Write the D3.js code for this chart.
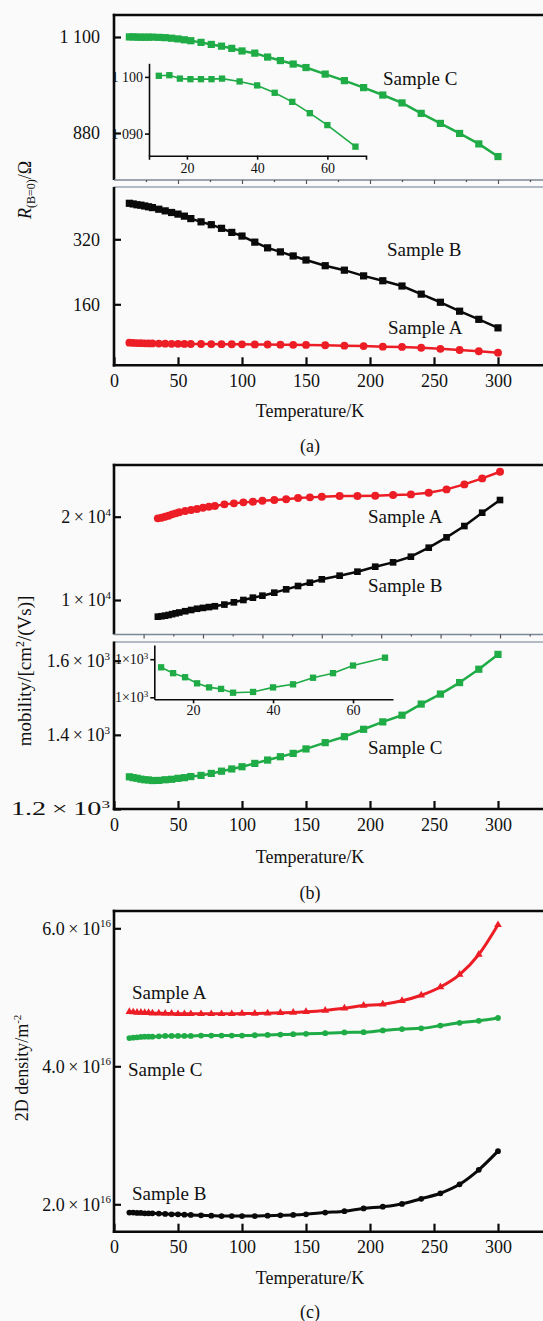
<!DOCTYPE html>
<html>
<head>
<meta charset="utf-8">
<script src="https://cdn.jsdelivr.net/npm/d3@7"></script>
<style>
  body { margin: 0; background: #fafafa; }
  svg text { font-family: "Liberation Serif", "Times New Roman", serif; fill: #111; }
</style>
</head>
<body>
<svg id="chart" width="543" height="1321"></svg>
<script>
// temperatures (K), same sampling for every curve
const temps = [12, 15, 18, 21, 24, 27, 30, 35, 40, 45, 50, 55, 60, 68, 76, 84, 92, 100, 110, 120, 130, 140, 150, 165, 180, 195, 210, 225, 240, 255, 270, 285, 300];

// (a) R(B=0) in ohm
const resC = [1100.2, 1100.3, 1099.7, 1099.6, 1099.6, 1099.6, 1099.7, 1099.2, 1098.5, 1097.2, 1095.6, 1093.6, 1091.5, 1087.7, 1083, 1079, 1074, 1068, 1063, 1054, 1046, 1038, 1030, 1015, 1000, 984, 967, 949, 925, 902, 879, 855, 826];
const resB = [408.6, 407, 405, 404, 402, 400, 398, 394, 390, 386, 382, 377, 371, 363, 356, 347, 337, 328, 313, 299, 289, 279, 269, 255, 244, 230, 218, 205, 185, 165, 143, 123, 102];
const resA = [65.5, 65, 64.6, 64.3, 64, 63.8, 63.6, 63.3, 63, 62.8, 62.6, 62.4, 62.3, 62.2, 62, 61.8, 61.7, 61.5, 61.2, 61, 60.6, 60.3, 60, 59.2, 58.2, 57.2, 55.8, 55, 53, 50.5, 47.5, 44.5, 41];

// (b) mobility in cm2/(Vs)
const mobA = [19800, 19880, 20000, 20120, 20280, 20400, 20530, 20680, 20800, 20920, 21080, 21200, 21280, 21480, 21600, 21720, 21800, 21920, 22000, 22100, 22240, 22320, 22400, 22480, 22480, 22520, 22600, 22680, 22880, 23280, 23880, 24600, 25400];
const mobB = [8000, 8050, 8120, 8200, 8300, 8400, 8500, 8650, 8800, 8950, 9050, 9150, 9250, 9450, 9720, 10000, 10280, 10520, 10880, 11280, 11680, 12080, 12480, 12920, 13400, 14000, 14520, 15200, 16280, 17520, 18880, 20480, 22000];
const mobC = [1286.8, 1284.5, 1282.9, 1280.5, 1278.9, 1278.3, 1276.8, 1277.1, 1278.9, 1280.1, 1282.7, 1284.5, 1287.5, 1290.6, 1296, 1302, 1308, 1314, 1323, 1332, 1341, 1350, 1362, 1379, 1395, 1415, 1435, 1453, 1483, 1510, 1541, 1577, 1617];

// (c) 2D density in 1e16 m^-2
const denA = [4.79, 4.785, 4.78, 4.78, 4.775, 4.775, 4.77, 4.77, 4.765, 4.765, 4.76, 4.76, 4.76, 4.76, 4.76, 4.76, 4.76, 4.765, 4.765, 4.77, 4.775, 4.78, 4.79, 4.81, 4.84, 4.88, 4.9, 4.95, 5.03, 5.15, 5.33, 5.62, 6.05];
const denC = [4.41, 4.415, 4.42, 4.425, 4.43, 4.43, 4.43, 4.435, 4.44, 4.44, 4.44, 4.44, 4.44, 4.445, 4.445, 4.445, 4.445, 4.445, 4.45, 4.455, 4.46, 4.465, 4.47, 4.48, 4.49, 4.495, 4.52, 4.54, 4.55, 4.59, 4.63, 4.66, 4.7];
const denB = [1.88, 1.88, 1.875, 1.875, 1.87, 1.87, 1.87, 1.865, 1.86, 1.855, 1.855, 1.85, 1.845, 1.84, 1.835, 1.83, 1.83, 1.83, 1.83, 1.835, 1.84, 1.845, 1.855, 1.88, 1.9, 1.94, 1.965, 2.005, 2.08, 2.16, 2.29, 2.5, 2.77];

const xTicks = [0, 50, 100, 150, 200, 250, 300];
const minorTicks = [25, 75, 125, 175, 225, 275, 325];
const insetN = 14; // insets show the points up to 68 K

const W = 543;
const FONT = '"Liberation Serif", "Times New Roman", serif';
const green = "#1fab45", red = "#ec1d25", black = "#0a0a0a", gray = "#7d8895";

const svg = d3.select("#chart").style("font-family", FONT);
svg.append("rect").attr("width", W).attr("height", 1321).attr("fill", "#fafafa");

const x = d3.scaleLinear().domain([0, 300]).range([114, 498]);
const xTopB = d3.scaleLinear().domain([0, 300]).range([143.6, 500]);

function hline(y, x1, x2, color, w) {
    svg.append("line").attr("x1", x1).attr("x2", x2).attr("y1", y).attr("y2", y)
        .attr("stroke", color).attr("stroke-width", w);
}
function vline(xx, y1, y2, color, w) {
    svg.append("line").attr("x1", xx).attr("x2", xx).attr("y1", y1).attr("y2", y2)
        .attr("stroke", color).attr("stroke-width", w);
}

function series(xs, ys, xv, yv, color, shape, msize, lw, curve) {
    const pts = xv.map((t, i) => [t, yv[i]]);
    svg.append("path").datum(pts)
        .attr("fill", "none").attr("stroke", color).attr("stroke-width", lw)
        .attr("stroke-linejoin", "round")
        .attr("d", d3.line().curve(curve || d3.curveLinear).x(d => xs(d[0])).y(d => ys(d[1])));
    svg.append("g").selectAll("path").data(pts).join("path")
        .attr("transform", d => `translate(${xs(d[0])},${ys(d[1])})`)
        .attr("d", d3.symbol().type(shape).size(msize))
        .attr("fill", color);
}

// label like 2×10^4
function sci(text, m, e, fs, sfs, thin) {
    text.text(null);
    const sp = thin ? "\u2009" : "";
    text.append("tspan").text(m + sp + "×" + sp + "10");
    text.append("tspan").attr("font-size", sfs).attr("dy", -fs * 0.4).text(e);
}

function styleText(g, fs) {
    g.attr("font-family", null);
    g.selectAll(".tick text").attr("font-size", fs).style("font-family", FONT).attr("fill", "#111");
}

function yAxis(ys, vals, fmt, pad) {
    const g = svg.append("g").attr("transform", "translate(114,0)")
        .call(d3.axisLeft(ys).tickValues(vals).tickSizeInner(-7).tickSizeOuter(0).tickPadding(pad).tickFormat(fmt));
    g.select(".domain").remove();
    g.selectAll(".tick line").attr("stroke", black).attr("stroke-width", 2.2);
    styleText(g, 18);
    return g;
}

function xAxis(yPos) {
    const g = svg.append("g").attr("transform", `translate(0,${yPos})`)
        .call(d3.axisBottom(x).tickValues(xTicks).tickSizeInner(-8).tickSizeOuter(0).tickPadding(9));
    g.select(".domain").remove();
    g.selectAll(".tick line").attr("stroke", black).attr("stroke-width", 2.2);
    styleText(g, 18);
}

function breakTicks(xs, yPos) {
    const g = svg.append("g").attr("transform", `translate(0,${yPos})`);
    g.call(d3.axisBottom(xs).tickValues(xTicks.filter(v => xs(v) > 116)).tickSize(4).tickFormat(""));
    g.append("g").call(d3.axisBottom(xs).tickValues(minorTicks.filter(v => xs(v) < W)).tickSize(2).tickFormat(""));
    g.selectAll(".domain").remove();
    g.selectAll(".tick line").attr("stroke", "#555").attr("stroke-width", 1.2);
}

function caption(txt, yc, xc, fs) {
    svg.append("text").attr("x", xc).attr("y", yc).attr("dy", "0.35em")
        .attr("font-size", fs).attr("text-anchor", "middle").style("font-family", FONT).text(txt);
}
function label(txt, x0, yc) {
    svg.append("text").attr("x", x0).attr("y", yc).attr("dy", "0.35em")
        .attr("font-size", 19).style("font-family", FONT).text(txt);
}

// ---------------- (a) ----------------
const yAt = d3.scaleLinear().domain([880, 1100]).range([133, 37]);
const yAb = d3.scaleLinear().domain([160, 320]).range([304.3, 239.3]);

hline(15, 112.8, W, black, 2.6);
vline(114, 13.8, 180, black, 2.6);
hline(180, 114, W, gray, 1.3);
breakTicks(x, 180);
hline(187, 114, W, "#9aa5b1", 1.5);
vline(114, 187, 366.6, black, 2.6);
hline(365.3, 112.8, W, black, 2.6);

yAxis(yAt, [880, 1100], d => d === 1100 ? "1 100" : "880", 14);
yAxis(yAb, [160, 320], d3.format("d"), 14);
xAxis(365.3);

series(x, yAt, temps, resC, green, d3.symbolSquare, 52, 2.5);
series(x, yAb, temps, resB, black, d3.symbolSquare, 52, 2.5);
series(x, yAb, temps, resA, red, d3.symbolCircle, 48, 2.5);

// inset (a)
const xiA = d3.scaleLinear().domain([9.2, 71]).range([149, 366]);
const yiA = d3.scaleLinear().domain([1086.1, 1102.4]).range([155.7, 63.3]);
{
    const gx = svg.append("g").attr("transform", "translate(0,155.7)")
        .call(d3.axisBottom(xiA).tickValues([20, 40, 60]).tickSizeInner(4).tickSizeOuter(4).tickPadding(3));
    const gy = svg.append("g").attr("transform", "translate(149,0)")
        .call(d3.axisLeft(yiA).tickValues([1090, 1100]).tickSizeInner(4).tickSizeOuter(0).tickPadding(2)
            .tickFormat(d => d === 1100 ? "1 100" : "1 090"));
    [gx, gy].forEach(g => {
        g.selectAll(".domain,.tick line").attr("stroke", black).attr("stroke-width", 1.6);
        styleText(g, 14);
    });
}
series(xiA, yiA, temps.slice(0, insetN), resC.slice(0, insetN), green, d3.symbolSquare, 40, 1.6);

label("Sample C", 383, 78);
label("Sample B", 387, 249);
label("Sample A", 388, 327);

{
    const t = svg.append("text").attr("transform", "translate(31,190) rotate(-90)")
        .attr("text-anchor", "middle").attr("font-size", 18).style("font-family", FONT);
    t.append("tspan").attr("font-style", "italic").text("R");
    t.append("tspan").attr("font-size", 12).attr("dy", 4).text("(B=0)");
    t.append("tspan").attr("dy", -4).text("/Ω");
}
caption("Temperature/K", 411, 310, 18);
caption("(a)", 446, 310, 18);

// ---------------- (b) ----------------
const yBt = d3.scaleLinear().domain([10000, 20000]).range([600, 516.7]);
const yBb = d3.scaleLinear().domain([1200, 1600]).range([809, 660.7]);

hline(465, 112.8, W, black, 2.6);
vline(114, 463.8, 634.5, black, 2.6);
hline(634.5, 114, W, gray, 1.3);
breakTicks(xTopB, 634.5);
hline(642, 114, W, "#9aa5b1", 1.5);
vline(114, 641.5, 810.3, black, 2.6);
hline(809, 112.8, W, black, 2.6);

yAxis(yBt, [10000, 20000], d => d, 3)
    .selectAll(".tick text").each(function (d) { sci(d3.select(this), String(d / 10000), "4", 18, 11, true); });
yAxis(yBb, [1200, 1400, 1600], d => d, 4)
    .selectAll(".tick text").each(function (d) {
        const s = d3.select(this);
        sci(s, (d / 1000).toFixed(1), "3", 18, 11, true);
        // the lowest label is printed stretched in the source figure
        if (d === 1200) s.attr("textLength", 99).attr("lengthAdjust", "spacingAndGlyphs");
    });
xAxis(809);

series(xTopB, yBt, temps, mobA, red, d3.symbolCircle, 50, 2.5);
series(xTopB, yBt, temps, mobB, black, d3.symbolSquare, 44, 2.5);
series(x, yBb, temps, mobC, green, d3.symbolSquare, 52, 2.5);

// inset (b)
const xiB = d3.scaleLinear().domain([10.3, 70]).range([154.3, 393]);
const yiB = d3.scaleLinear().domain([1274.2, 1295.6]).range([699.3, 645]);
{
    const gx = svg.append("g").attr("transform", "translate(0,699.3)")
        .call(d3.axisBottom(xiB).tickValues([20, 40, 60]).tickSizeInner(4).tickSizeOuter(0).tickPadding(2));
    const gy = svg.append("g").attr("transform", "translate(154.3,0)")
        .call(d3.axisLeft(yiB).tickValues([1275, 1290]).tickSizeInner(4).tickSizeOuter(0).tickPadding(2));
    [gx, gy].forEach(g => {
        g.selectAll(".domain,.tick line").attr("stroke", black).attr("stroke-width", 1.6);
        styleText(g, 14);
    });
    gy.selectAll(".tick text").each(function () { sci(d3.select(this), "1", "3", 14, 9, false); });
}
series(xiB, yiB, temps.slice(0, insetN), mobC.slice(0, insetN), green, d3.symbolSquare, 40, 1.6);

label("Sample A", 368, 516);
label("Sample B", 368, 585);
label("Sample C", 368, 747);

{
    const t = svg.append("text").attr("transform", "translate(31,671) rotate(-90)")
        .attr("text-anchor", "middle").attr("font-size", 19).style("font-family", FONT);
    t.append("tspan").text("mobility/[cm");
    t.append("tspan").attr("font-size", 12).attr("dy", -7).text("2");
    t.append("tspan").attr("dy", 7).text("/(Vs)]");
}
caption("Temperature/K", 857, 310, 18);
caption("(b)", 893, 310, 18);

// ---------------- (c) ----------------
const yC = d3.scaleLinear().domain([2, 6]).range([1204.3, 928.3]);

hline(911, 112.8, W, black, 2.6);
vline(114, 909.8, 1233, black, 2.6);
hline(1231.7, 112.8, W, black, 2.6);

yAxis(yC, [2, 4, 6], d => d, 3)
    .selectAll(".tick text").each(function (d) { sci(d3.select(this), d.toFixed(1), "16", 18, 11, true); });
xAxis(1231.7);

series(x, yC, temps, denA, red, d3.symbolTriangle, 26, 3, d3.curveMonotoneX);
series(x, yC, temps, denC, green, d3.symbolCircle, 26, 3, d3.curveMonotoneX);
series(x, yC, temps, denB, black, d3.symbolCircle, 26, 3, d3.curveMonotoneX);

label("Sample A", 132, 992);
label("Sample C", 128, 1069);
label("Sample B", 132, 1193);

{
    const t = svg.append("text").attr("transform", "translate(28,1068) rotate(-90)")
        .attr("text-anchor", "middle").attr("font-size", 18).style("font-family", FONT);
    t.append("tspan").text("2D density/m");
    t.append("tspan").attr("font-size", 11).attr("dy", -7).text("-2");
}
caption("Temperature/K", 1278, 310, 18);
caption("(c)", 1312, 310, 18);
</script>
</body>
</html>
